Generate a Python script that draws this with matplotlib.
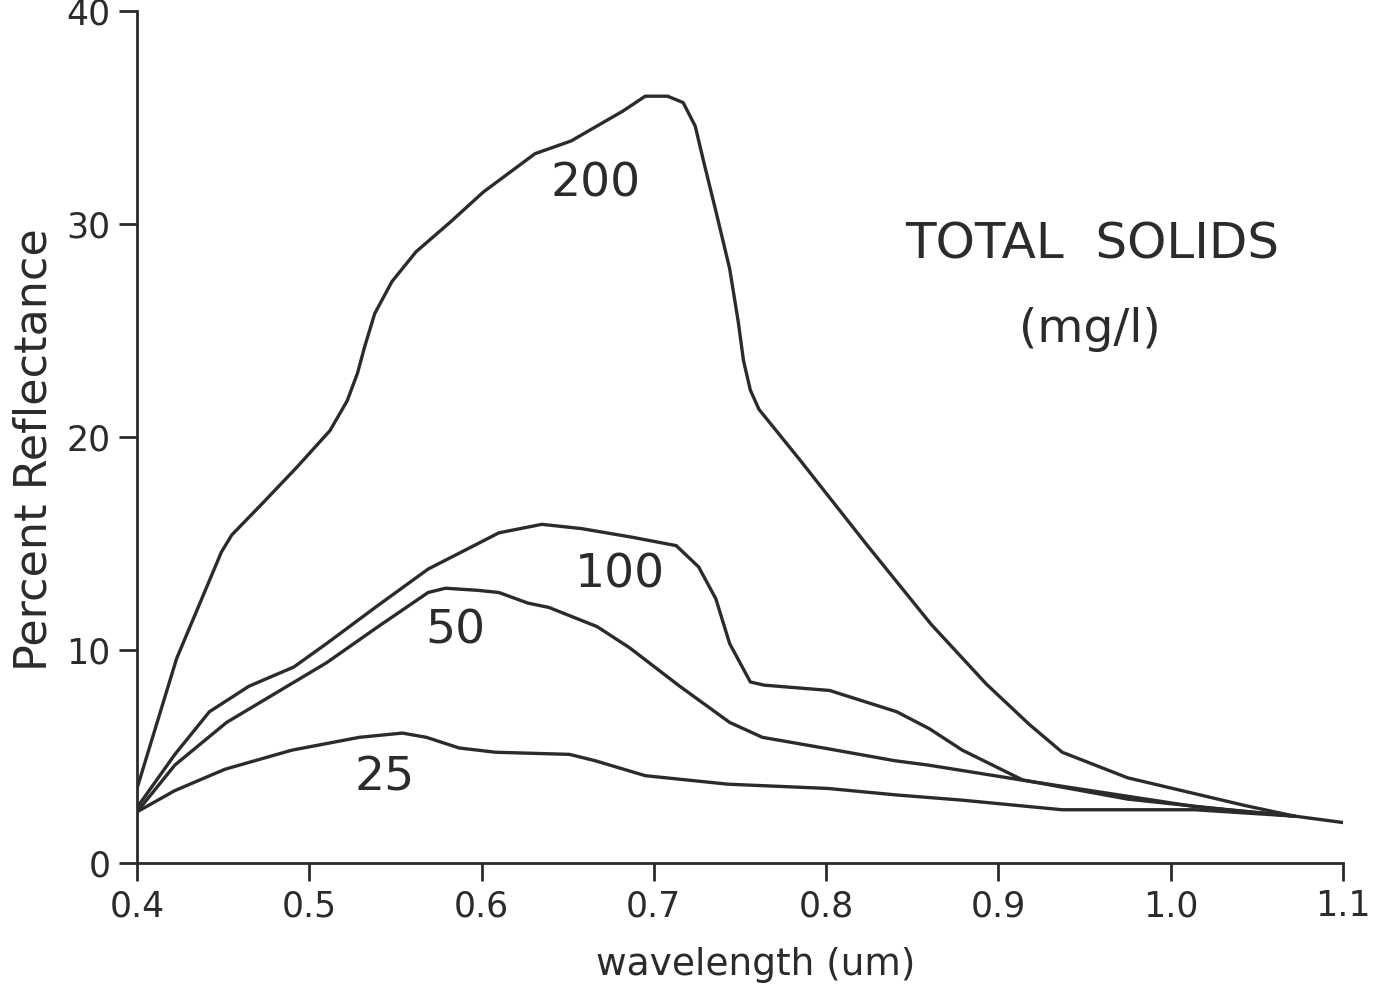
import matplotlib
matplotlib.use("Agg")
import matplotlib.pyplot as plt

# wavelength (um) and percent reflectance for each total-solids level (mg/l)
x_200 = [0.400, 0.423, 0.449, 0.455, 0.473, 0.493, 0.512, 0.522, 0.528, 0.532, 0.538, 0.548,
         0.562, 0.582, 0.601, 0.631, 0.652, 0.682, 0.695, 0.708, 0.717, 0.724, 0.729, 0.736,
         0.744, 0.749, 0.752, 0.756, 0.761, 0.768, 0.785, 0.823, 0.861, 0.893, 0.918, 0.937,
         0.975, 1.043, 1.072, 1.100]
y_200 = [3.5, 9.6, 14.6, 15.4, 16.9, 18.6, 20.3, 21.7, 23.0, 24.2, 25.8, 27.3,
         28.7, 30.1, 31.5, 33.3, 33.9, 35.3, 36.0, 36.0, 35.7, 34.6, 32.9, 30.6,
         27.9, 25.4, 23.6, 22.2, 21.3, 20.6, 18.9, 15.0, 11.2, 8.4, 6.5, 5.2,
         4.0, 2.7, 2.2, 1.9]

x_100 = [0.400, 0.422, 0.442, 0.465, 0.491, 0.510, 0.540, 0.569, 0.598, 0.610, 0.635,
         0.658, 0.687, 0.713, 0.726, 0.736, 0.744, 0.756, 0.764, 0.802, 0.841, 0.860,
         0.879, 0.914, 0.975, 1.033, 1.072]
y_100 = [2.6, 5.1, 7.1, 8.3, 9.2, 10.3, 12.1, 13.8, 15.0, 15.5, 15.9,
         15.7, 15.3, 14.9, 13.9, 12.4, 10.3, 8.5, 8.35, 8.1, 7.1, 6.3,
         5.3, 3.9, 3.0, 2.5, 2.2]

x_50 = [0.400, 0.422, 0.452, 0.481, 0.510, 0.540, 0.569, 0.579, 0.598, 0.610, 0.627,
        0.639, 0.667, 0.686, 0.715, 0.744, 0.763, 0.802, 0.840, 0.859, 0.917, 1.014, 1.072]
y_50 = [2.4, 4.6, 6.6, 8.0, 9.4, 11.1, 12.7, 12.9, 12.8, 12.7, 12.2,
        12.0, 11.1, 10.1, 8.3, 6.6, 5.9, 5.35, 4.8, 4.6, 3.85, 2.65, 2.2]

x_25 = [0.400, 0.422, 0.451, 0.490, 0.529, 0.554, 0.568, 0.587, 0.608, 0.651, 0.666,
        0.695, 0.743, 0.801, 0.840, 0.879, 0.937, 1.014, 1.072]
y_25 = [2.4, 3.4, 4.4, 5.3, 5.9, 6.1, 5.9, 5.4, 5.2, 5.1, 4.8,
        4.1, 3.7, 3.5, 3.2, 2.95, 2.5, 2.5, 2.2]

series = [("200", x_200, y_200), ("100", x_100, y_100), ("50", x_50, y_50), ("25", x_25, y_25)]

# curve label positions (data coords)
label_pos = {"200": (0.666, 31.9), "100": (0.680, 13.5), "50": (0.585, 10.9), "25": (0.544, 4.0)}

x_ticks = [0.4, 0.5, 0.6, 0.7, 0.8, 0.9, 1.0, 1.1]
x_tick_labels = ["0.4", "0.5", "0.6", "0.7", "0.8", "0.9", "1.0", "1.1"]
y_ticks = [0, 10, 20, 30, 40]
y_tick_labels = ["0", "10", "20", "30", "40"]

ink = "#2b2b2b"
plt.rcParams["font.family"] = ["DejaVu Sans"]

fig = plt.figure(figsize=(13.76, 9.90), dpi=100)
fig.patch.set_facecolor("white")
W, H = 1376, 990
ax = fig.add_axes([137 / W, 1 - 863 / H, 1206 / W, 852 / H])

for name, xs, ys in series:
    ax.plot(xs, ys, color=ink, lw=2.4, solid_capstyle="round", solid_joinstyle="round")
    lx, ly = label_pos[name]
    ax.text(lx, ly, name, fontsize=34, color=ink, ha="center", va="center")

ax.set_xlim(0.4, 1.1)
ax.set_ylim(0, 40)
ax.spines["top"].set_visible(False)
ax.spines["right"].set_visible(False)
for s in ("left", "bottom"):
    ax.spines[s].set_color(ink)
    ax.spines[s].set_linewidth(2.0)
ax.set_xticks(x_ticks)
ax.set_xticklabels(x_tick_labels)
ax.set_yticks(y_ticks)
ax.set_yticklabels(y_tick_labels)
ax.tick_params(axis="both", direction="out", length=13, width=2.0, color=ink,
               labelsize=25, labelcolor=ink, pad=6)

ax.set_xlabel("wavelength (um)", fontsize=27, color=ink)
ax.xaxis.set_label_coords(0.513, -0.12)
ax.xaxis.label.set_verticalalignment("center")
ax.set_ylabel("Percent Reflectance", fontsize=32, color=ink)
ax.yaxis.set_label_coords(-0.085, 0.485)
ax.yaxis.label.set_verticalalignment("center")

ax.text(0.792, 0.7265, "TOTAL  SOLIDS", transform=ax.transAxes, fontsize=36,
        color=ink, ha="center", va="center")
ax.text(0.790, 0.6256, "(mg/l)", transform=ax.transAxes, fontsize=34,
        color=ink, ha="center", va="center")

fig.savefig("out.png", dpi=100, facecolor="white")
